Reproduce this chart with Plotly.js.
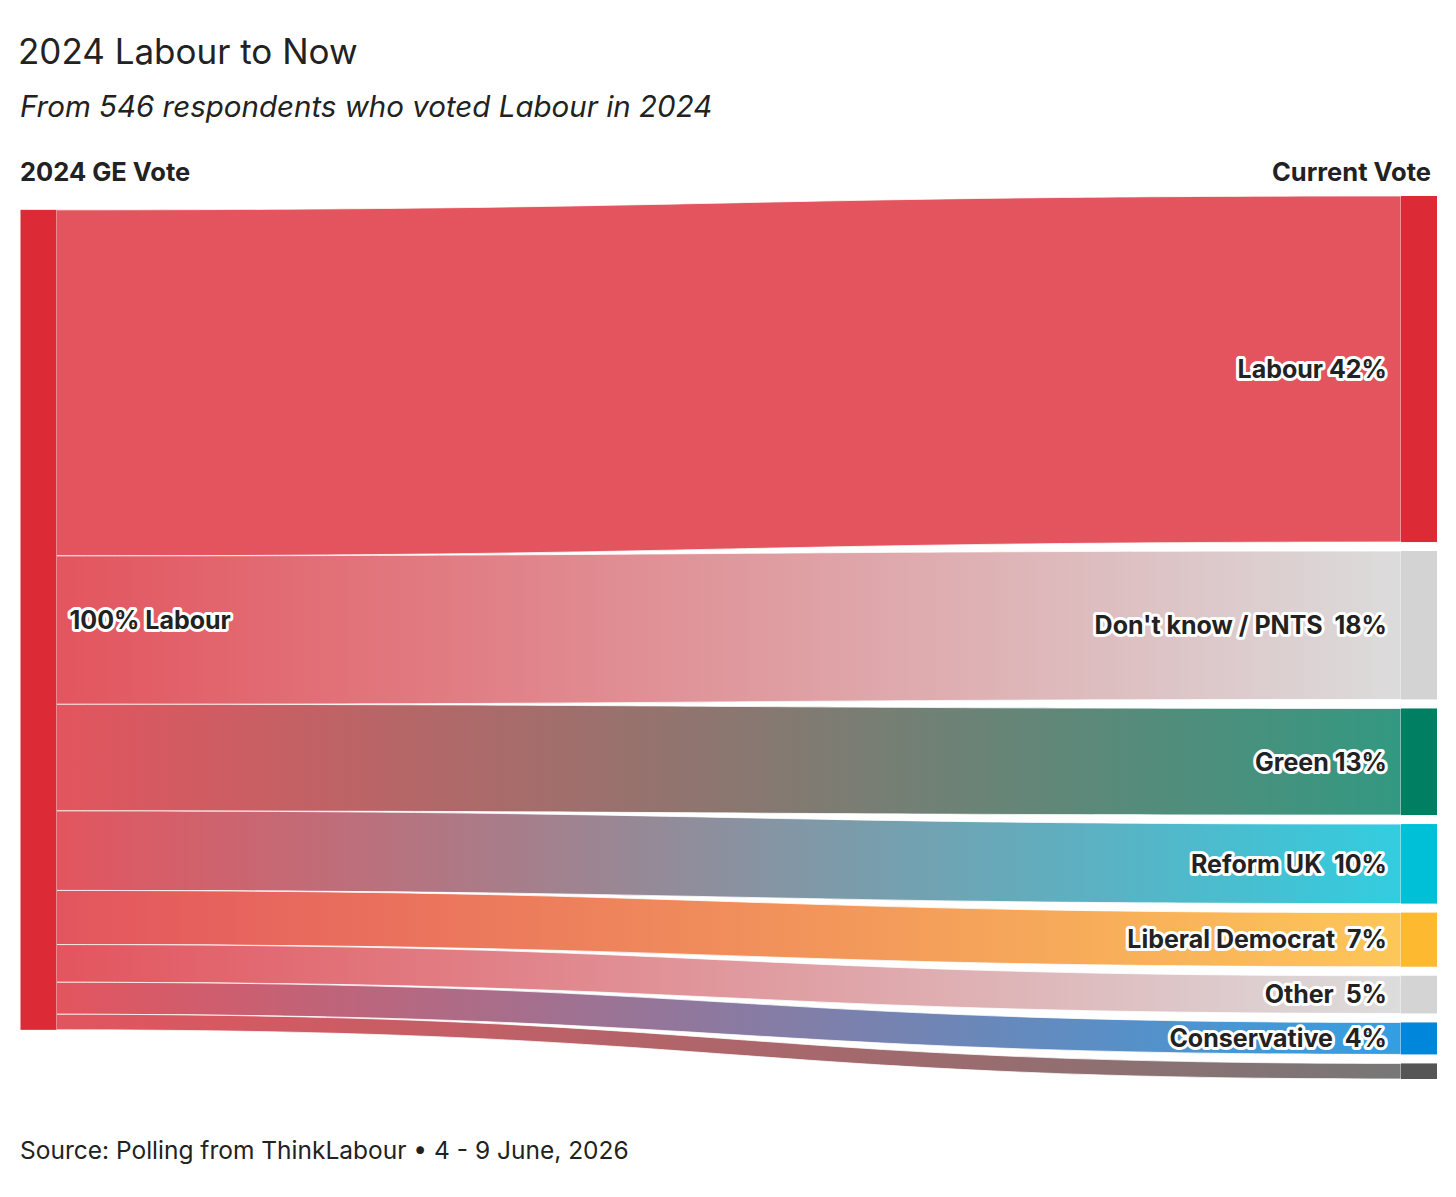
<!DOCTYPE html>
<html><head><meta charset="utf-8">
<script src="https://cdn.plot.ly/plotly-3.0.1.min.js"></script>
<style>body{margin:0;background:#fff}</style>
</head><body><div id="chart" style="width:1456px;height:1197px"></div>
<script>
// ---- data ----
const sourceLabels = ['100% Labour'];
const targetLabels = ['Labour 42%', "Don't know / PNTS\u00a0 18%", 'Green 13%', 'Reform UK\u00a0 10%', 'Liberal Democrat\u00a0 7%', 'Other\u00a0 5%', 'Conservative\u00a0 4%', ''];
const flowValues = [42.2, 18.1, 13.0, 9.7, 6.6, 4.6, 3.9, 1.9];
const sourceColor = '#DC2A36';
const targetColors = ['#DC2A36', '#D3D3D3', '#007F62', '#00C0D8', '#FDB92F', '#D4D4D4', '#0087DC', '#555555'];

// ---- layout parameters ----
const W = 1456, H = 1197;
const topPx = 196, botPx = 1079;
const plotH = botPx - topPx;
const pad = 9;
const total = flowValues.reduce((a, b) => a + b, 0);
const ky = (plotH - pad * (flowValues.length - 1)) / total;

const nodeLabels = sourceLabels.concat(targetLabels);
const nodeColors = [sourceColor].concat(targetColors);
const nodeX = [0.001];
const nodeY = [0.48];
let cum = 0;
flowValues.forEach(v => {
  const h = v * ky;
  nodeX.push(0.999);
  nodeY.push((cum + h / 2) / plotH);
  cum += h + pad;
});

function hexA(hex, a) {
  const n = parseInt(hex.slice(1), 16);
  return 'rgba(' + (n >> 16 & 255) + ',' + (n >> 8 & 255) + ',' + (n & 255) + ',' + a + ')';
}

const data = [{
  type: 'sankey',
  arrangement: 'fixed',
  orientation: 'h',
  domain: {x: [0.025493, 0.975541], y: [0, 1]},
  hoverinfo: 'none',
  node: {
    label: nodeLabels,
    color: nodeColors,
    x: nodeX,
    y: nodeY,
    pad: pad,
    thickness: 36,
    line: {width: 0},
    hoverinfo: 'none'
  },
  link: {
    source: flowValues.map(() => 0),
    target: flowValues.map((v, i) => i + 1),
    value: flowValues,
    color: targetColors.map(c => hexA(c, 0.8)),
    line: {color: 'rgba(255,255,255,0.75)', width: 1},
    hoverinfo: 'none'
  },
  textfont: {family: 'Inter, sans-serif', size: 25, color: '#222', weight: 700}
}];

function py(p) { return (botPx - p) / plotH; }

const layout = {
  width: W, height: H,
  margin: {l: 0, r: 0, t: topPx, b: H - botPx},
  paper_bgcolor: '#fff',
  font: {family: 'Inter, sans-serif', color: '#222'},
  title: {
    text: '2024 Labour to Now',
    x: 18 / W, xanchor: 'left', xref: 'paper',
    y: 1 - 52 / H, yanchor: 'middle', yref: 'container',
    font: {size: 35, color: '#222', family: 'Inter, sans-serif'}
  },
  annotations: [
    {text: '<i>From 546 respondents who voted Labour in 2024</i>', xref: 'paper', yref: 'paper',
     x: 18 / W, xanchor: 'left', y: py(106), yanchor: 'middle', showarrow: false,
     font: {size: 29.5, color: '#222'}},
    {text: '<b>2024 GE Vote</b>', xref: 'paper', yref: 'paper',
     x: 18 / W, xanchor: 'left', y: py(172), yanchor: 'middle', showarrow: false,
     font: {size: 25.5, color: '#222'}},
    {text: '<b>Current Vote</b>', xref: 'paper', yref: 'paper',
     x: 1433 / W, xanchor: 'right', y: py(172), yanchor: 'middle', showarrow: false,
     font: {size: 25.5, color: '#222'}},
    {text: 'Source: Polling from ThinkLabour \u2022 4 - 9 June, 2026', xref: 'paper', yref: 'paper',
     x: 18 / W, xanchor: 'left', y: py(1150), yanchor: 'middle', showarrow: false,
     font: {size: 24.5, color: '#222'}}
  ]
};

Plotly.newPlot('chart', data, layout, {staticPlot: true, displayModeBar: false}).then(gd => {
  const svg = gd.querySelector('svg.main-svg');
  const NS = 'http://www.w3.org/2000/svg';
  let defs = svg.querySelector('defs');
  if (!defs) { defs = document.createElementNS(NS, 'defs'); svg.insertBefore(defs, svg.firstChild); }
  targetColors.forEach((c, i) => {
    const g = document.createElementNS(NS, 'linearGradient');
    g.setAttribute('id', 'lg' + i);
    g.setAttribute('x1', '0'); g.setAttribute('x2', '1');
    g.setAttribute('y1', '0'); g.setAttribute('y2', '0');
    [[0, sourceColor], [1, c]].forEach(([o, col]) => {
      const s = document.createElementNS(NS, 'stop');
      s.setAttribute('offset', o);
      s.setAttribute('stop-color', col);
      g.appendChild(s);
    });
    defs.appendChild(g);
  });
  gd.querySelectorAll('.sankey-link').forEach((el, k) => {
    const d = el.__data__;
    const idx = d && d.link && d.link.pointNumber !== undefined ? d.link.pointNumber : k;
    el.style.fill = 'url(#lg' + idx + ')';
  });
  gd.querySelectorAll('.node-label').forEach(el => {
    el.style.textShadow = 'none';
    el.style.paintOrder = 'stroke fill';
    el.style.stroke = '#fff';
    el.style.strokeWidth = '6px';
    el.style.strokeLinejoin = 'round';
    const anchor = el.getAttribute('text-anchor');
    const dx = anchor === 'end' ? -11 : 10;
    el.setAttribute('transform', (el.getAttribute('transform') || '') + ' translate(' + dx + ',0)');
  });
});
</script>
</body></html>
